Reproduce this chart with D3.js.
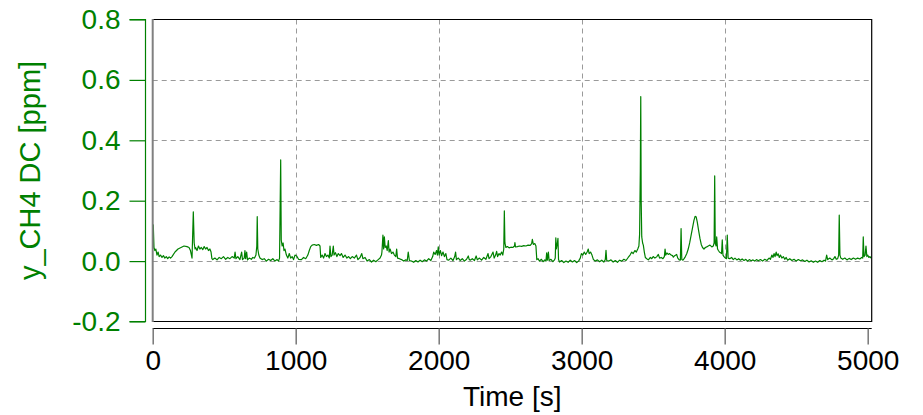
<!DOCTYPE html>
<html><head><meta charset="utf-8">
<script src="https://cdn.jsdelivr.net/npm/d3@7"></script>
<style>body{margin:0;background:#fff}svg{display:block}text{font-family:"Liberation Sans",Arial,sans-serif}</style>
</head><body>
<svg id="c" width="923" height="415"></svg>
<script>
const xTicks = [0, 1000, 2000, 3000, 4000, 5000];
const yTicks = [-0.2, 0.0, 0.2, 0.4, 0.6, 0.8];
const yTickLabels = ["-0.2", "0.0", "0.2", "0.4", "0.6", "0.8"];
const xTitle = "Time [s]";
const yTitle = "y_CH4 DC [ppm]";
const timeS = [
0,4,9,15,22,30,38,45,55,65,75,85,95,105,115,125,135,156,177,198,219,240,254,264,275,284,290,296,
300,310,320,330,340,350,360,370,380,390,400,408,414,420,435,450,465,480,495,510,525,540,555,570,576,582,595,610,622,628,640,645,650,657,663,675,690,700,
712,722,728,731,735,742,750,765,780,795,810,825,840,855,870,880,887,895,899,905,912,918,925,935,945,955,965,975,985,995,
1007,1020,1040,1055,1070,1085,1095,1105,1115,1130,1145,1160,1170,1175,1185,1195,1205,1215,1225,1235,1240,1246,1255,1263,1268,1278,1288,1298,1310,1320,1332,1345,1358,1370,1382,1395,
1410,1425,1435,1450,1462,1470,1485,1500,1515,1530,1545,1560,1575,1590,1600,1603,1610,1615,1620,1626,1633,1640,1648,1653,1660,1670,1680,1690,1700,1706,1712,1725,1740,1755,1770,1780,1787,1795,
1810,1825,1840,1855,1870,1885,1900,1915,1930,1945,1958,1965,1975,1985,1991,1997,2003,2012,2020,2030,2040,2050,2058,2070,2085,2100,2112,2118,2124,2138,2150,2165,2180,2195,
2207,2213,2220,2235,2250,2262,2270,2285,2300,2315,2330,2345,2352,2365,2380,2388,2398,2405,2412,2422,2430,2440,2448,2455,2459,2463,2470,2480,2492,2505,2518,2530,2533,2537,2550,2565,2580,2595,2610,2625,2640,2650,2655,2662,2672,2680,2686,
2695,2705,2718,2730,2742,2750,2755,2760,2767,2772,2785,2798,2810,2815,2819,2823,2830,2834,2838,2845,2860,2875,2890,2905,2920,2935,2950,2965,2978,2990,2998,3008,3018,3028,3038,3046,3052,3062,3072,3082,
3095,3110,3125,3140,3155,3165,3170,3175,3190,3205,3220,3235,3250,3265,3280,3295,3310,3325,3338,3350,3360,3372,3382,3392,3400,3405,3410,3413,3416,3420,3426,3431,3438,3445,3455,3466,
3480,3490,3500,3512,3524,3536,3545,3556,3568,3578,3583,3588,3596,3605,3615,3625,3635,3641,3650,3664,3672,3682,3690,3695,3700,3708,3716,3725,3735,3745,3755,3765,3775,3785,3793,3800,3808,3818,3827,3836,3845,3855,3865,3874,3885,3897,3910,3920,3926,3930,3934,
3940,3944,3950,3956,3963,3970,3978,3983,3988,3995,4005,4012,4018,4024,4035,4048,4060,4072,4085,4098,4110,4122,4135,4148,4160,4172,4185,4198,4210,4222,4235,
4250,4265,4280,4295,4310,4320,4330,4338,4345,4352,4360,4366,4374,4382,4390,4400,4410,4420,4430,4440,4455,4470,4485,4500,4515,4530,4545,4560,4575,4590,4605,4620,4635,4650,4665,4680,4695,4705,
4713,4720,4735,4750,4762,4771,4780,4790,4797,4801,4806,4812,4825,4840,4855,4870,4885,4900,4915,4930,4945,4958,4965,4969,4974,4982,4988,4994,5000,5008,5016,5023
];
const ch4 = [
0.04,0.12,0.045,0.035,0.04,0.02,0.03,0.015,0.02,0.012,0.018,0.01,0.015,0.008,0.014,0.01,0.015,0.03,0.04,0.045,0.05,0.048,0.045,0.035,0.01,0.163,0.06,0.04,
0.045,0.035,0.05,0.04,0.045,0.038,0.048,0.04,0.045,0.035,0.04,0.03,0.008,0.005,0.01,0.004,0.012,0.008,0.015,0.006,0.012,0.008,0.015,0.01,0.03,0.008,0.015,0.005,0.03,0.005,0.01,0.035,0.008,0.03,0.004,0.01,0.006,0.012,
0.01,0.02,0.05,0.147,0.04,0.02,0.01,0.005,0.008,0.0,0.006,0.002,0.008,0.0,0.005,0.0,0.01,0.335,0.07,0.05,0.06,0.035,0.04,0.02,0.01,0.025,0.01,0.015,0.005,0.02,
0.017,0.006,0.005,0.012,0.008,0.02,0.035,0.048,0.053,0.055,0.052,0.055,0.05,0.012,0.02,0.01,0.025,0.015,0.02,0.01,0.05,0.015,0.02,0.05,0.02,0.028,0.015,0.025,0.018,0.025,0.012,0.02,0.01,0.015,0.008,0.015,
0.01,0.02,0.005,0.012,0.025,0.008,0.012,0.0,0.005,-0.003,0.003,-0.002,0.004,0.01,0.02,0.03,0.086,0.04,0.08,0.045,0.05,0.035,0.068,0.03,0.04,0.025,0.03,0.02,0.015,0.04,0.01,0.008,0.005,0.0,0.004,0.002,0.03,0.002,
0.0,-0.004,0.002,-0.003,0.003,-0.002,0.004,0.0,0.008,0.002,0.015,0.03,0.022,0.035,0.02,0.047,0.02,0.035,0.018,0.03,0.015,0.025,0.005,0.003,0.01,0.002,0.015,0.03,0.005,0.01,0.002,0.008,0.0,0.006,
0.017,0.006,0.003,0.008,0.002,0.017,0.004,0.01,0.003,0.012,0.006,0.025,0.008,0.015,0.03,0.01,0.02,0.032,0.015,0.025,0.02,0.03,0.02,0.04,0.166,0.06,0.045,0.048,0.044,0.046,0.045,0.05,0.061,0.047,0.048,0.05,0.049,0.051,0.05,0.053,0.052,0.058,0.072,0.055,0.058,0.05,0.005,
0.008,0.0,0.006,-0.002,0.004,0.0,0.027,0.003,0.03,0.002,0.006,-0.002,0.004,0.01,0.077,0.04,0.06,0.075,0.005,-0.003,0.002,-0.005,0.0,-0.004,0.003,-0.003,0.002,-0.005,0.0,0.01,0.025,0.02,0.03,0.022,0.03,0.04,0.025,0.03,0.02,0.005,
0.0,0.004,-0.002,0.003,-0.003,0.005,0.036,0.002,0.0,0.004,-0.003,0.002,-0.004,0.003,0.0,0.006,0.002,0.012,0.02,0.03,0.025,0.035,0.03,0.04,0.05,0.09,0.3,0.545,0.2,0.08,0.06,0.053,0.03,0.012,0.008,0.004,
0.012,0.008,0.015,0.01,0.014,0.022,0.01,0.012,0.008,0.015,0.04,0.02,0.027,0.022,0.025,0.02,0.018,0.013,0.018,0.022,0.01,0.004,0.003,0.108,0.005,0.003,0.008,0.015,0.025,0.04,0.06,0.085,0.11,0.135,0.148,0.147,0.13,0.1,0.075,0.055,0.045,0.04,0.045,0.047,0.05,0.053,0.047,0.05,0.06,0.282,0.06,
0.05,0.08,0.04,0.035,0.03,0.028,0.025,0.07,0.02,0.015,0.01,0.008,0.086,0.01,0.008,0.012,0.005,0.01,0.004,0.008,0.003,0.007,0.002,0.006,0.0,0.005,0.001,0.004,0.0,0.005,0.001,
0.005,0.0,0.006,0.002,0.01,0.006,0.02,0.012,0.025,0.015,0.03,0.018,0.024,0.012,0.02,0.01,0.015,0.006,0.012,0.003,0.008,0.002,0.006,0.0,0.005,0.001,0.004,-0.001,0.003,-0.003,0.001,-0.004,0.0,-0.004,0.002,-0.002,0.003,0.0,
0.02,0.005,0.01,0.004,0.008,0.015,0.006,0.008,0.02,0.152,0.02,0.01,0.006,0.01,0.004,0.009,0.005,0.01,0.006,0.01,0.007,0.012,0.01,0.08,0.015,0.02,0.05,0.015,0.02,0.012,0.015,0.01
];
const data = timeS.map((t, i) => ({t, v: ch4[i]}));

const svg = d3.select("#c");
const green = "#008000";
const x0 = 152.7, x1 = 871.7, yTop = 19.5, yBot = 321.5;
const x = d3.scaleLinear().domain([0, 5028]).range([x0, x1]);
const y = d3.scaleLinear().domain([-0.2, 0.8]).range([yBot, yTop]);

// grid
const grid = svg.append("g").attr("stroke", "#9a9a9a").attr("stroke-width", 1).attr("stroke-dasharray", "5,4");
grid.selectAll("line.gx").data(xTicks.filter(d => d > 0 && d < 5000)).join("line")
  .attr("x1", d => Math.round(x(d)) + 0.5).attr("x2", d => Math.round(x(d)) + 0.5)
  .attr("y1", yTop).attr("y2", yBot);
grid.selectAll("line.gy").data(yTicks.filter(d => d > -0.2 && d < 0.8)).join("line")
  .attr("y1", d => Math.round(y(d)) + 0.5).attr("y2", d => Math.round(y(d)) + 0.5)
  .attr("x1", x0).attr("x2", x1);

// data line
svg.append("path").datum(data)
  .attr("fill", "none").attr("stroke", green).attr("stroke-width", 1.2).attr("stroke-linejoin", "round")
  .attr("d", d3.line().x(d => x(d.t)).y(d => y(d.v)));

// frame
svg.append("path").attr("fill", "none").attr("stroke", "#000").attr("stroke-width", 1.2)
  .attr("d", `M${x0},${yTop}H${x1}V${yBot}H${x0}`);
svg.append("line").attr("x1", x0).attr("x2", x0).attr("y1", yTop - 0.6).attr("y2", yBot + 0.6)
  .attr("stroke", "#808080").attr("stroke-width", 2);

// y axis (green)
const yAxis = d3.axisLeft(y).tickValues(yTicks).tickFormat((d, i) => yTickLabels[i]).tickSize(16).tickPadding(9);
const gy = svg.append("g").attr("transform", "translate(145.5,0)").call(yAxis);
gy.select(".domain").attr("stroke", green).attr("stroke-width", 1.2).attr("d", `M-16,${yTop}H0V${yBot}H-16`);
gy.selectAll(".tick line").attr("stroke", green).attr("stroke-width", 1.2);
gy.selectAll(".tick text").attr("fill", green).attr("font-size", 28).attr("font-family", "Liberation Sans, Arial, sans-serif");

// x axis
const xAxis = d3.axisBottom(x).tickValues(xTicks).tickFormat(d3.format("d")).tickSize(16).tickPadding(6);
const gx = svg.append("g").attr("transform", "translate(0,328.5)").call(xAxis);
gx.select(".domain").attr("stroke", "#000").attr("stroke-width", 1.2).attr("d", `M${x0},0H${x1}`);
gx.selectAll(".tick line").attr("stroke", "#777").attr("stroke-width", 1.5);
gx.selectAll(".tick text").attr("fill", "#000").attr("font-size", 28).attr("font-family", "Liberation Sans, Arial, sans-serif");

// titles
svg.append("text").attr("x", (x0 + x1) / 2).attr("y", 406).attr("text-anchor", "middle")
  .attr("font-size", 28).attr("fill", "#000").text(xTitle);
svg.append("text").attr("transform", `translate(40,${(yTop + yBot) / 2}) rotate(-90)`).attr("text-anchor", "middle")
  .attr("font-size", 29).attr("fill", green).text(yTitle);
</script>
</body></html>
